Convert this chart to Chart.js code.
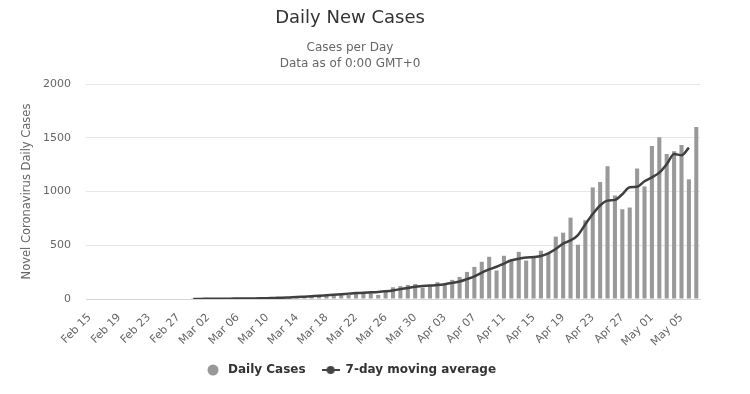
<!DOCTYPE html>
<html>
<head>
<meta charset="utf-8">
<script src="https://cdn.jsdelivr.net/npm/chart.js@4"></script>
<style>
  html, body { margin: 0; padding: 0; background: #fff; }
  #wrap { width: 720px; height: 394px; }
</style>
</head>
<body>
<div id="wrap"><canvas id="chart"></canvas></div>
<script>
// categories, Feb 15 - May 07
const categories = [
  'Feb 15','Feb 16','Feb 17','Feb 18','Feb 19','Feb 20','Feb 21','Feb 22','Feb 23','Feb 24','Feb 25','Feb 26','Feb 27','Feb 28','Feb 29',
  'Mar 01','Mar 02','Mar 03','Mar 04','Mar 05','Mar 06','Mar 07','Mar 08','Mar 09','Mar 10','Mar 11','Mar 12','Mar 13','Mar 14','Mar 15','Mar 16',
  'Mar 17','Mar 18','Mar 19','Mar 20','Mar 21','Mar 22','Mar 23','Mar 24','Mar 25','Mar 26','Mar 27','Mar 28','Mar 29','Mar 30','Mar 31',
  'Apr 01','Apr 02','Apr 03','Apr 04','Apr 05','Apr 06','Apr 07','Apr 08','Apr 09','Apr 10','Apr 11','Apr 12','Apr 13','Apr 14','Apr 15',
  'Apr 16','Apr 17','Apr 18','Apr 19','Apr 20','Apr 21','Apr 22','Apr 23','Apr 24','Apr 25','Apr 26','Apr 27','Apr 28','Apr 29','Apr 30',
  'May 01','May 02','May 03','May 04','May 05','May 06','May 07'
];

const dailyCases = [
  0,0,0,0,0,0,0,0,0,0,0,0,0,0,1,
  0,2,1,3,2,4,3,5,4,8,6,12,10,18,15,20,25,30,28,37,37,47,60,55,38,70,109,120,131,140,105,
  129,156,133,178,205,252,299,346,393,265,402,362,439,358,383,449,430,580,617,757,505,732,1038,1088,1234,963,835,851,1215,1047,
  1424,1505,1349,1374,1433,1113,1599
];

const movingAverage = [
  null,null,null,null,null,null,null,null,null,null,null,null,null,null,1,
  1,2,2,3,3,4,4,5,6,8,10,12,15,18,22,26,30,35,40,45,50,55,58,62,66,72,80,92,103,115,120,
  125,130,138,150,162,185,210,245,275,300,330,360,375,385,390,400,425,465,515,545,595,695,790,870,915,922,975,1040,1044,1095,
  1131,1175,1253,1349,1337,1409,null
];

const yTicks = [0, 500, 1000, 1500, 2000];

const FONT = 'DejaVu Sans';

// legend markers
function marker(kind) {
  const c = document.createElement('canvas');
  c.width = 18; c.height = 12;
  const g = c.getContext('2d');
  if (kind === 'circle') {
    g.fillStyle = '#999999';
    g.beginPath();
    g.arc(9, 6, 5.5, 0, Math.PI * 2);
    g.fill();
  } else {
    g.strokeStyle = '#444444';
    g.lineWidth = 2;
    g.beginPath();
    g.moveTo(0, 6); g.lineTo(18, 6);
    g.stroke();
    g.fillStyle = '#444444';
    g.beginPath();
    g.arc(9, 6, 4, 0, Math.PI * 2);
    g.fill();
  }
  return c;
}

const ctx = document.getElementById('chart').getContext('2d');
new Chart(ctx, {
  type: 'bar',
  data: {
    labels: categories,
    datasets: [{
      label: 'Daily Cases',
      data: dailyCases,
      backgroundColor: '#999999',
      pointStyle: marker('circle'),
      barPercentage: 0.55,
      categoryPercentage: 1,
      order: 1
    }, {
      type: 'line',
      label: '7-day moving average',
      data: movingAverage,
      borderColor: '#3f3f3f',
      backgroundColor: '#3f3f3f',
      borderWidth: 2.5,
      pointRadius: 0,
      pointStyle: marker('line'),
      tension: 0.4,
      cubicInterpolationMode: 'monotone',
      spanGaps: false,
      order: 0
    }]
  },
  options: {
    responsive: true,
    maintainAspectRatio: false,
    devicePixelRatio: 1,
    animation: false,
    layout: { padding: { left: 0, right: 20, top: 0, bottom: 8 } },
    plugins: {
      title: {
        display: true,
        text: 'Daily New Cases',
        color: '#333333',
        font: { family: FONT, size: 18, weight: 'normal' },
        padding: { top: 8, bottom: 10 }
      },
      subtitle: {
        display: true,
        text: ['Cases per Day', 'Data as of 0:00 GMT+0'],
        color: '#666666',
        font: { family: FONT, size: 12, lineHeight: 1.35 },
        padding: { top: 0, bottom: 12 }
      },
      legend: {
        position: 'bottom',
        labels: {
          usePointStyle: true,
          pointStyleWidth: 18,
          boxHeight: 12,
          padding: 16,
          color: '#333333',
          font: { family: FONT, size: 12, weight: 'bold' },
          sort: (a, b) => a.datasetIndex - b.datasetIndex
        }
      },
      tooltip: { enabled: false }
    },
    scales: {
      x: {
        grid: { display: false },
        border: { display: true, color: '#ccd6eb', width: 1 },
        ticks: {
          autoSkip: false,
          minRotation: 45,
          maxRotation: 45,
          padding: 4,
          color: '#666666',
          font: { family: FONT, size: 11 },
          callback: function(value, index) {
            return index % 4 === 0 ? categories[index] : '';
          }
        },
        afterFit: function(scale) { scale.height = 49; }
      },
      y: {
        min: yTicks[0],
        max: yTicks[yTicks.length - 1],
        afterBuildTicks: function(scale) {
          scale.ticks = yTicks.map(v => ({ value: v }));
        },
        grid: {
          color: c => (c.tick && c.tick.value === 0) ? 'rgba(0,0,0,0)' : '#e6e6e6',
          drawTicks: false
        },
        border: { display: false },
        ticks: {
          padding: 15,
          color: '#666666',
          font: { family: FONT, size: 11 },
          callback: function(value) { return String(value); }
        },
        title: {
          display: true,
          text: 'Novel Coronavirus Daily Cases',
          color: '#666666',
          font: { family: FONT, size: 11.5 },
          padding: { top: 20, bottom: 0 }
        },
        afterFit: function(scale) { scale.width = 86; }
      }
    }
  }
});
</script>
</body>
</html>
